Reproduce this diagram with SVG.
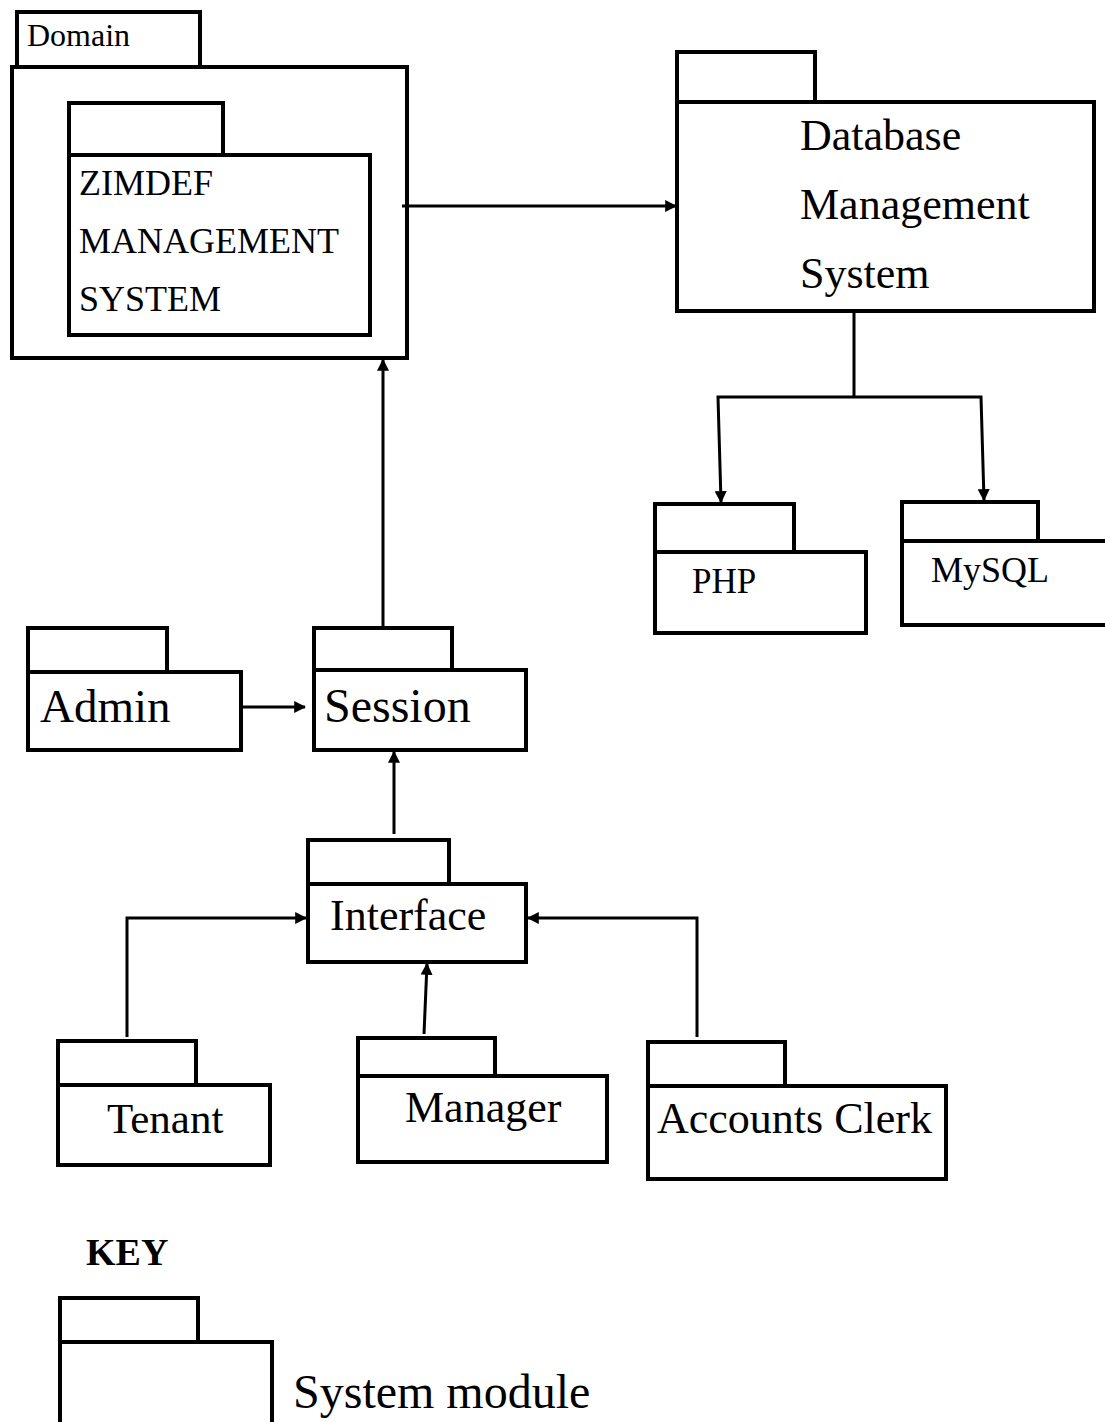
<svg xmlns="http://www.w3.org/2000/svg" width="1105" height="1422" viewBox="0 0 1105 1422">
  <style>
    .box { fill: #fff; stroke: #000; stroke-width: 4; }
    .lbl { font-family: "Liberation Serif", "Times New Roman", serif; fill: #000; }
    .wire { fill: none; stroke: #000; stroke-width: 3; }
  </style>
  <defs>
    <marker id="arrow" viewBox="0 0 10 10" refX="9" refY="5" markerWidth="4" markerHeight="4" orient="auto" markerUnits="strokeWidth">
      <path d="M0,0 L10,5 L0,10 Z" fill="#000"/>
    </marker>
  </defs>
  <rect width="1105" height="1422" fill="#fff"/>

  <!-- Domain package with nested ZIMDEF system -->
  <g id="domain">
    <rect class="box" x="17" y="12" width="183" height="55"/>
    <rect class="box" x="12" y="67" width="395" height="291"/>
    <text class="lbl" x="27" y="46" font-size="32">Domain</text>
  </g>
  <g id="zimdef">
    <rect class="box" x="69" y="103" width="154" height="52"/>
    <rect class="box" x="69" y="155" width="301" height="180"/>
    <text class="lbl" x="79" y="195" font-size="36">ZIMDEF</text>
    <text class="lbl" x="79" y="253" font-size="36">MANAGEMENT</text>
    <text class="lbl" x="79" y="311" font-size="36">SYSTEM</text>
  </g>

  <g id="dbms">
    <rect class="box" x="677" y="52" width="138" height="50"/>
    <rect class="box" x="677" y="102" width="417" height="209"/>
    <text class="lbl" x="800" y="150" font-size="44">Database</text>
    <text class="lbl" x="800" y="219" font-size="44">Management</text>
    <text class="lbl" x="800" y="288" font-size="44">System</text>
  </g>

  <g id="php">
    <rect class="box" x="655" y="504" width="139" height="48"/>
    <rect class="box" x="655" y="552" width="211" height="81"/>
    <text class="lbl" x="692" y="593" font-size="35">PHP</text>
  </g>

  <g id="mysql">
    <rect class="box" x="902" y="502" width="136" height="39"/>
    <rect class="box" x="902" y="541" width="210" height="84"/>
    <text class="lbl" x="931" y="582" font-size="36">MySQL</text>
  </g>

  <g id="admin">
    <rect class="box" x="28" y="628" width="139" height="44"/>
    <rect class="box" x="28" y="672" width="213" height="78"/>
    <text class="lbl" x="40" y="722" font-size="47">Admin</text>
  </g>

  <g id="session">
    <rect class="box" x="314" y="628" width="138" height="42"/>
    <rect class="box" x="314" y="670" width="212" height="80"/>
    <text class="lbl" x="324" y="722" font-size="48">Session</text>
  </g>

  <g id="interface">
    <rect class="box" x="308" y="840" width="141" height="44"/>
    <rect class="box" x="308" y="884" width="218" height="78"/>
    <text class="lbl" x="330" y="930" font-size="44">Interface</text>
  </g>

  <g id="tenant">
    <rect class="box" x="58" y="1041" width="138" height="44"/>
    <rect class="box" x="58" y="1085" width="212" height="80"/>
    <text class="lbl" x="107" y="1133" font-size="43">Tenant</text>
  </g>

  <g id="manager">
    <rect class="box" x="358" y="1038" width="137" height="38"/>
    <rect class="box" x="358" y="1076" width="249" height="86"/>
    <text class="lbl" x="405" y="1122" font-size="44">Manager</text>
  </g>

  <g id="accounts-clerk">
    <rect class="box" x="648" y="1042" width="137" height="44"/>
    <rect class="box" x="648" y="1086" width="298" height="93"/>
    <text class="lbl" x="657" y="1133" font-size="44">Accounts Clerk</text>
  </g>

  <!-- Legend -->
  <g id="key">
    <text class="lbl" x="86" y="1265" font-size="38" font-weight="bold">KEY</text>
    <rect class="box" x="60" y="1298" width="138" height="44"/>
    <rect class="box" x="60" y="1342" width="212" height="90"/>
    <text class="lbl" x="293" y="1408" font-size="48">System module</text>
  </g>

  <g id="connectors">
    <line class="wire" x1="402" y1="206" x2="676" y2="206" marker-end="url(#arrow)"/>
    <polyline class="wire" points="854,311 854,397"/>
    <polyline class="wire" points="854,397 718,397 721,502" marker-end="url(#arrow)"/>
    <polyline class="wire" points="854,397 981,397 984,500" marker-end="url(#arrow)"/>
    <line class="wire" x1="383" y1="626" x2="383" y2="360" marker-end="url(#arrow)"/>
    <line class="wire" x1="243" y1="707" x2="305" y2="707" marker-end="url(#arrow)"/>
    <line class="wire" x1="394" y1="834" x2="394" y2="752" marker-end="url(#arrow)"/>
    <polyline class="wire" points="127,1037 127,918 306,918" marker-end="url(#arrow)"/>
    <polyline class="wire" points="697,1037 697,918 528,918" marker-end="url(#arrow)"/>
    <line class="wire" x1="424" y1="1034" x2="427" y2="964" marker-end="url(#arrow)"/>
  </g>
</svg>
